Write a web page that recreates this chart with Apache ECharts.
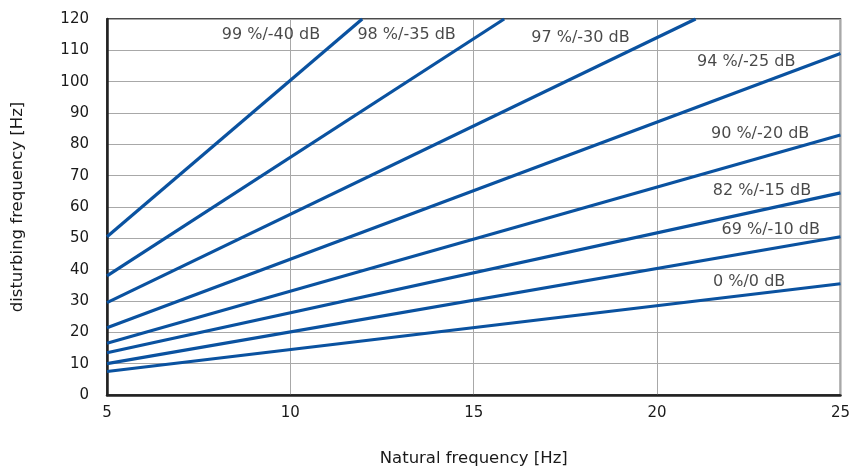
<!DOCTYPE html>
<html><head><meta charset="utf-8">
<script src="https://cdn.jsdelivr.net/npm/echarts@6/dist/echarts.min.js"></script>
<style>html,body{margin:0;padding:0;background:#fff}#c{width:853px;height:472px}</style>
</head><body><div id="c"></div>
<script>
// Line names (isolation efficiency / attenuation)
const seriesNames = ['0 %/0 dB','69 %/-10 dB','82 %/-15 dB','90 %/-20 dB','94 %/-25 dB','97 %/-30 dB','98 %/-35 dB','99 %/-40 dB'];
// Each line as [natural freq, disturbing freq] endpoints
const line0dB  = [[5, 7.5], [25, 35.5]];
const line10dB = [[5, 10], [25, 50.5]];
const line15dB = [[5, 13.5], [25, 64.5]];
const line20dB = [[5, 16.5], [25, 83]];
const line25dB = [[5, 21.5], [25, 109]];
const line30dB = [[5, 29.5], [21.05, 120]];
const line35dB = [[5, 38], [15.83, 120]];
const line40dB = [[5, 50.5], [11.96, 120]];
const lines = [line0dB, line10dB, line15dB, line20dB, line25dB, line30dB, line35dB, line40dB];
// Label anchor positions (data coords) for each line's text
const labelX = [22.51, 23.1, 22.86, 22.81, 22.43, 17.91, 13.17, 9.47];
const labelY = [36.2, 52.7, 65.1, 83.5, 106.3, 114.0, 114.9, 114.9];
const xTicks = [5, 10, 15, 20, 25];
const yTicks = [0, 10, 20, 30, 40, 50, 60, 70, 80, 90, 100, 110, 120];

const chart = echarts.init(document.getElementById('c'), null, {renderer: 'canvas'});
const font = '"DejaVu Sans", sans-serif';
const series = lines.map((d, i) => ({
  name: seriesNames[i], type: 'line', data: d, symbol: 'none',
  lineStyle: {color: '#0a52a0', width: 3.2}, silent: true, animation: false
}));
series.push({
  type: 'scatter', symbolSize: 0, animation: false, silent: true,
  data: seriesNames.map((n, i) => [labelX[i], labelY[i], n]),
  label: {show: true, position: 'inside', formatter: p => p.value[2],
    color: '#1a1a1a', fontSize: 16, fontFamily: font}
});
chart.setOption({
  animation: false,
  grid: {left: 107, right: 7, top: 19, bottom: 75, show: true, borderColor: '#111', borderWidth: 1.5},
  xAxis: {type: 'value', min: xTicks[0], max: xTicks[xTicks.length-1], interval: 5,
    name: 'Natural frequency [Hz]', nameLocation: 'middle', nameGap: 55,
    nameTextStyle: {fontSize: 16.5, color: '#1a1a1a', fontFamily: font},
    axisLine: {lineStyle: {color: '#222', width: 2.5}}, axisTick: {show: false},
    axisLabel: {color: '#1a1a1a', fontSize: 15, fontFamily: font, margin: 11},
    splitLine: {lineStyle: {color: '#a8a8a8', width: 1}}},
  yAxis: {type: 'value', min: yTicks[0], max: yTicks[yTicks.length-1], interval: 10,
    name: 'disturbing frequency [Hz]', nameLocation: 'middle', nameGap: 81, nameRotate: 90,
    nameTextStyle: {fontSize: 16.5, color: '#1a1a1a', fontFamily: font},
    axisLine: {show: true, lineStyle: {color: '#222', width: 2.5}}, axisTick: {show: false},
    axisLabel: {color: '#1a1a1a', fontSize: 15, fontFamily: font, margin: 18},
    splitLine: {lineStyle: {color: '#a8a8a8', width: 1}}},
  series: series
});
</script></body></html>
